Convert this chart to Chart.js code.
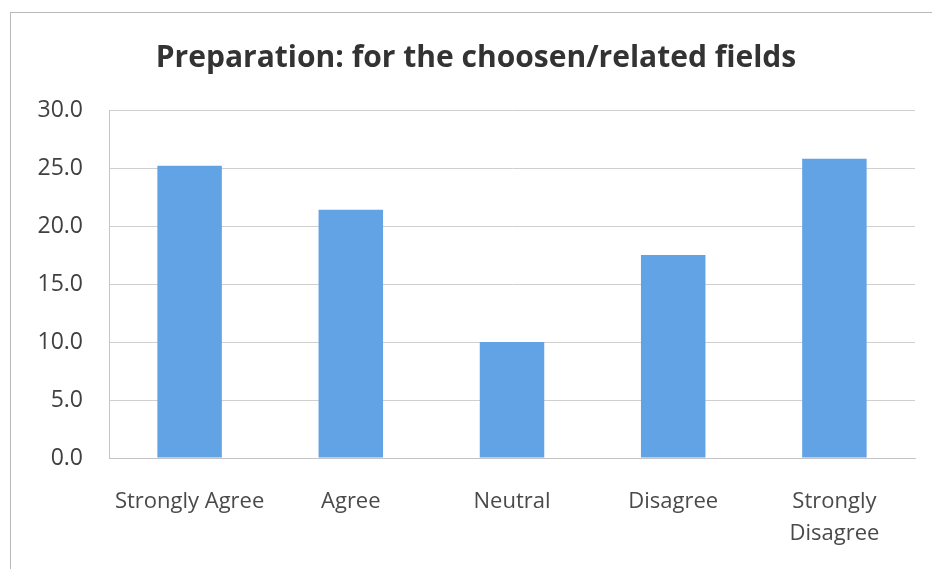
<!DOCTYPE html>
<html>
<head>
<meta charset="utf-8">
<script src="https://cdn.jsdelivr.net/npm/chart.js@4"></script>
<style>
html,body{margin:0;padding:0;background:#fff;overflow:hidden;width:932px;height:569px;}
#frame{position:absolute;left:10px;top:12px;width:930px;height:570px;border:1px solid #b8b8b8;box-sizing:border-box;}
#wrap{position:absolute;left:11px;top:13px;width:930px;height:560px;}
</style>
</head>
<body>
<div id="frame"></div>
<div id="wrap"><canvas id="c" width="930" height="560"></canvas></div>
<script>
const titleText = 'Preparation: for the choosen/related fields';
const categories = ['Strongly Agree', 'Agree', 'Neutral', 'Disagree', ['Strongly', 'Disagree']];
const values = [25.2, 21.4, 10.0, 17.5, 25.8];
const yTicks = [0, 5, 10, 15, 20, 25, 30];

new Chart(document.getElementById('c'), {
  type: 'bar',
  data: {
    labels: categories,
    datasets: [{
      data: values,
      backgroundColor: '#62a3e6',
      borderWidth: 0,
      categoryPercentage: 1.0,
      barPercentage: 0.4
    }]
  },
  options: {
    responsive: false,
    animation: false,
    layout: { padding: { left: 26, right: 26, top: 0, bottom: 0 } },
    plugins: {
      legend: { display: false },
      tooltip: { enabled: false },
      title: {
        display: true,
        text: titleText,
        color: '#333333',
        font: { family: 'Open Sans', size: 30, weight: 'bold', lineHeight: 1.2 },
        padding: { top: 27, bottom: 34 }
      }
    },
    scales: {
      x: {
        afterFit: (s) => { s.height = 115; },
        grid: { display: false, drawTicks: false },
        border: { display: true, color: '#c4c4c4', width: 1 },
        ticks: {
          color: '#4a4a4a',
          font: { family: 'Open Sans', size: 22, lineHeight: 1.45 },
          padding: 28,
          maxRotation: 0,
          autoSkip: false
        }
      },
      y: {
        min: 0,
        max: 30,
        afterBuildTicks: (s) => { s.ticks = yTicks.map(v => ({ value: v })); },
        afterFit: (s) => { s.width = 72; },
        grid: { color: '#cfcfcf', lineWidth: 1, drawTicks: false },
        border: { display: true, color: '#c4c4c4', width: 1 },
        ticks: {
          color: '#404040',
          font: { family: 'Open Sans', size: 23 },
          padding: 26,
          callback: (v) => Number(v).toFixed(1)
        }
      }
    }
  }
});
</script>
</body>
</html>
